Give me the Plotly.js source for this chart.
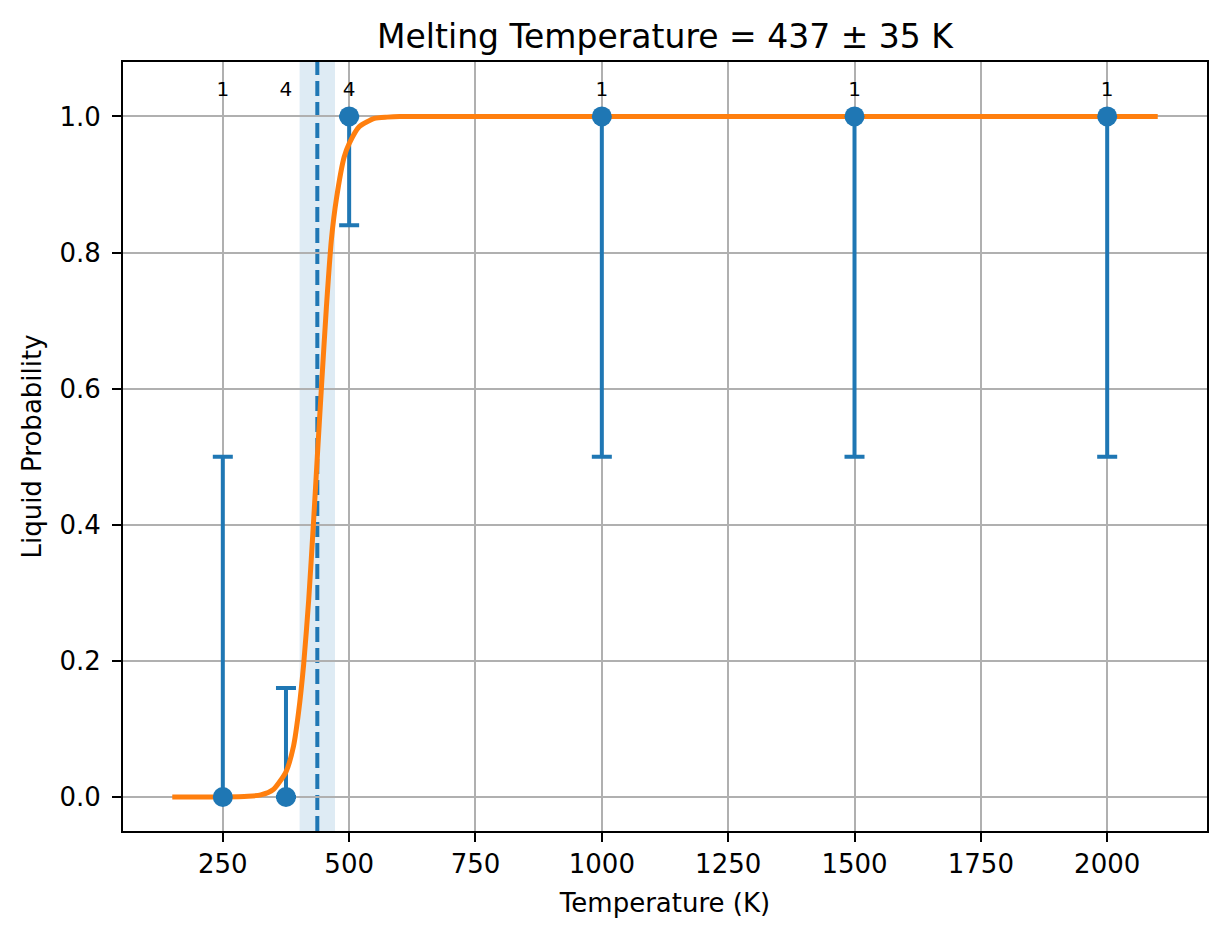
<!DOCTYPE html>
<html>
<head>
<meta charset="utf-8">
<script src="https://cdn.plot.ly/plotly-3.0.1.min.js"></script>
<style>
  html, body { margin: 0; padding: 0; background: #fff; }
  #plot { width: 1227px; height: 939px; }
</style>
</head>
<body>
<div id="plot"></div>
<script>
// simulated temperatures and liquid fraction
const temps = [250, 375, 500, 1000, 1500, 2000];
const probs = [0, 0, 1, 1, 1, 1];
const errUp = [0.5, 0.16, 0, 0, 0, 0];
const errDown = [0, 0, 0.16, 0.5, 0.5, 0.5];
const counts = ["1", "4", "4", "1", "1", "1"];

// fitted curve
const fitT = [150, 200, 250, 300, 325, 350, 375, 390, 400, 410, 420, 430, 437, 445, 455, 465, 475, 490, 500, 520, 550, 575, 600, 650, 700, 800, 1000, 1250, 1500, 1750, 2100];
const fitP = [0, 0, 0, 0.001, 0.003, 0.011, 0.037, 0.075, 0.125, 0.195, 0.29, 0.41, 0.5, 0.6, 0.72, 0.82, 0.88, 0.94, 0.96, 0.985, 0.997, 0.999, 1.0, 1.0, 1.0, 1.0, 1.0, 1.0, 1.0, 1.0, 1.0];

const Tm = 437;
const dTm = 35;
const labelY = 1.037;

const blue = "#1f77b4";
const orange = "#ff7f0e";
const font = "DejaVu Sans, sans-serif";

const errTrace = {
    type: "scatter",
    mode: "markers",
    x: temps,
    y: probs,
    marker: {size: 1, color: "rgba(0,0,0,0)"},
    error_y: {
        type: "data",
        symmetric: false,
        array: errUp,
        arrayminus: errDown,
        color: blue,
        thickness: 4,
        width: 10
    },
    hoverinfo: "skip"
};

const fit = {
    type: "scatter",
    mode: "lines",
    x: fitT,
    y: fitP,
    line: {color: orange, width: 5, shape: "spline", smoothing: 0.6}
};

const points = {
    type: "scatter",
    mode: "markers",
    x: temps,
    y: probs,
    marker: {size: 20, color: blue}
};

const countLabels = {
    type: "scatter",
    mode: "text",
    x: temps,
    y: temps.map(() => labelY),
    text: counts,
    textposition: "middle center",
    textfont: {family: font, size: 20, color: "#000"},
    hoverinfo: "skip"
};

const axisCommon = {
    showline: true,
    linecolor: "#000",
    linewidth: 2,
    mirror: true,
    ticks: "outside",
    ticklen: 9,
    tickwidth: 2,
    tickcolor: "#000",
    showgrid: true,
    gridcolor: "#b0b0b0",
    gridwidth: 2,
    zeroline: false,
    tickfont: {family: font, size: 26, color: "#000"}
};

Plotly.newPlot("plot", [errTrace, fit, points, countLabels], {
    width: 1227,
    height: 939,
    showlegend: false,
    paper_bgcolor: "#fff",
    plot_bgcolor: "#fff",
    margin: {l: 123, r: 20, t: 62, b: 108},
    title: {
        text: "Melting Temperature = " + Tm + " ± " + dTm + " K",
        font: {family: font, size: 33, color: "#000"},
        xref: "paper",
        x: 0.5,
        xanchor: "center",
        y: 1 - 36 / 939,
        yanchor: "middle"
    },
    xaxis: Object.assign({}, axisCommon, {
        range: [52.5, 2197.5],
        tickvals: [250, 500, 750, 1000, 1250, 1500, 1750, 2000],
        title: {text: "Temperature (K)", font: {family: font, size: 26, color: "#000"}, standoff: 16}
    }),
    yaxis: Object.assign({}, axisCommon, {
        range: [-0.05, 1.08],
        tickvals: [0, 0.2, 0.4, 0.6, 0.8, 1.0],
        tickformat: ".1f",
        ticklabelstandoff: 6,
        title: {text: "Liquid Probability", font: {family: font, size: 26, color: "#000"}, standoff: 10}
    }),
    shapes: [
        {
            type: "rect", xref: "x", yref: "paper",
            x0: Tm - dTm, x1: Tm + dTm, y0: 0, y1: 1,
            fillcolor: "rgba(31,119,180,0.15)", line: {width: 0}, layer: "below"
        },
        {
            type: "line", xref: "x", yref: "paper",
            x0: Tm, x1: Tm, y0: 0, y1: 1,
            line: {color: blue, width: 4, dash: "15px,6px"}, layer: "below"
        }
    ]
}, {displayModeBar: false});
</script>
</body>
</html>
